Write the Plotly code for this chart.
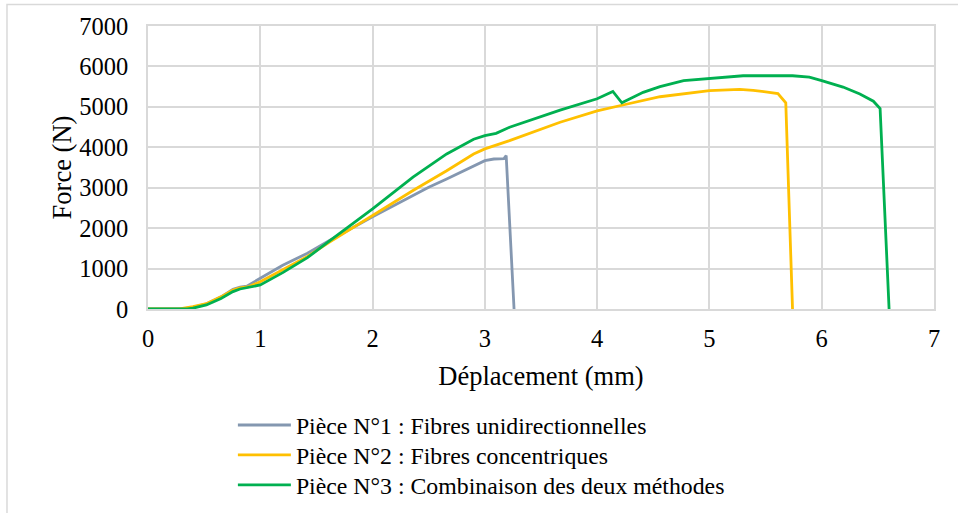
import plotly.graph_objects as go

# Data
x1 = [0, 0.3, 0.4, 0.52, 0.65, 0.757, 0.82, 0.88, 1.0, 1.2, 1.42, 1.62, 2.0, 2.36, 2.5, 2.66, 2.9, 3.0, 3.08, 3.17, 3.19, 3.26]
y1 = [0, 0, 40, 130, 300, 487, 540, 565, 760, 1080, 1380, 1700, 2280, 2800, 3010, 3215, 3550, 3670, 3710, 3720, 3795, 0]

x2 = [0, 0.28, 0.4, 0.52, 0.65, 0.757, 0.82, 0.9, 1.0, 1.2, 1.42, 1.62, 2.0, 2.36, 2.66, 2.9, 3.0, 3.22, 3.67, 4.0, 4.22, 4.56, 5.0, 5.27, 5.39, 5.61, 5.68, 5.74]
y2 = [0, 0, 60, 130, 300, 470, 520, 555, 675, 980, 1300, 1660, 2310, 2930, 3420, 3835, 3960, 4165, 4620, 4900, 5040, 5250, 5400, 5430, 5410, 5330, 5100, 0]

x3 = [0, 0.35, 0.4, 0.52, 0.65, 0.757, 0.82, 0.88, 0.93, 1.0, 1.2, 1.42, 1.62, 2.0, 2.36, 2.66, 2.9, 3.0, 3.1, 3.22, 3.67, 4.0, 4.14, 4.22, 4.41, 4.56, 4.77, 5.0, 5.3, 5.74, 5.89, 6.0, 6.19, 6.34, 6.46, 6.52, 6.60]
y3 = [0, 0, 20, 100, 260, 430, 495, 527, 545, 594, 900, 1270, 1690, 2475, 3260, 3835, 4200, 4290, 4345, 4495, 4920, 5200, 5380, 5100, 5360, 5500, 5650, 5710, 5770, 5770, 5735, 5650, 5490, 5320, 5140, 4960, 0]

names = ["Pièce N°1 : Fibres unidirectionnelles",
         "Pièce N°2 : Fibres concentriques",
         "Pièce N°3 : Combinaison des deux méthodes"]
colors = ["#8497B0", "#FFC000", "#00B050"]

x_ticks = [0, 1, 2, 3, 4, 5, 6, 7]
y_ticks = [0, 1000, 2000, 3000, 4000, 5000, 6000, 7000]

FONT = "Liberation Serif, Times New Roman, serif"
legend_ids = ["legend", "legend2", "legend3"]
legend_y = [0.1715, 0.1131, 0.0546]   # container fraction of each legend row centre

fig = go.Figure()
for i, (xs, ys) in enumerate([(x1, y1), (x2, y2), (x3, y3)]):
    fig.add_trace(go.Scatter(x=xs, y=ys, mode="lines", name=names[i],
                             legend=legend_ids[i],
                             line=dict(color=colors[i], width=2.8)))

grid = "#d9d9d9"
leg_common = dict(x=0.108, xref="paper", yref="container", xanchor="left", yanchor="middle",
                  orientation="v", font=dict(family=FONT, size=23.8, color="black"),
                  itemwidth=53, bgcolor="rgba(0,0,0,0)")
fig.update_layout(
    width=958, height=513,
    margin=dict(l=148, r=24, t=26, b=204),
    paper_bgcolor="white", plot_bgcolor="white",
    font=dict(family=FONT, size=24, color="black"),
    xaxis=dict(range=[0, 7], tickvals=x_ticks, ticks="", showgrid=True, gridcolor=grid, gridwidth=1.5,
               showline=True, linecolor=grid, linewidth=1.5, mirror=True, zeroline=False,
               automargin=False, ticklabelstandoff=7,
               title=dict(text="Déplacement (mm)", font=dict(family=FONT, size=26.5), standoff=15),
               tickfont=dict(family=FONT, size=24.5)),
    yaxis=dict(range=[0, 7000], tickvals=y_ticks, ticks="", showgrid=True, gridcolor=grid, gridwidth=1.5,
               showline=True, linecolor=grid, linewidth=1.5, mirror=True, zeroline=False,
               automargin=False, ticklabelstandoff=13,
               title=dict(text="Force (N)", font=dict(family=FONT, size=26.5), standoff=0),
               tickfont=dict(family=FONT, size=24.5)),
    showlegend=True,
    legend=dict(y=legend_y[0], **leg_common),
    legend2=dict(y=legend_y[1], **leg_common),
    legend3=dict(y=legend_y[2], **leg_common),
    shapes=[dict(type="rect", xref="paper", yref="paper", x0=-0.1794, x1=1.06, y0=-0.76, y1=1.076,
                 line=dict(color="#d9d9d9", width=1.5), layer="below")],
)
fig.write_html("out.html", config={"displayModeBar": False},
               post_script="document.body.style.margin='0';document.body.style.padding='0';")
